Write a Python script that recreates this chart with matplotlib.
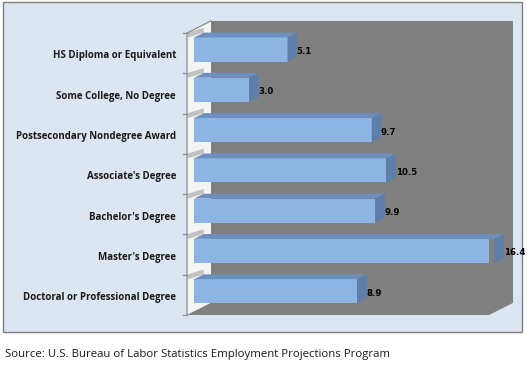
import matplotlib.pyplot as plt
from matplotlib.patches import Polygon, Rectangle

# Data (top to bottom in the picture)
categories = [
    "HS Diploma or Equivalent",
    "Some College, No Degree",
    "Postsecondary Nondegree Award",
    "Associate's Degree",
    "Bachelor's Degree",
    "Master's Degree",
    "Doctoral or Professional Degree",
]
values = [5.1, 3.0, 9.7, 10.5, 9.9, 16.4, 8.9]
source_text = "Source: U.S. Bureau of Labor Statistics Employment Projections Program"

# Styling
BG = "#dce6f2"
WALL = "#808080"
FRONT = "#8db4e2"
TOP = "#6d8fbd"
SIDE = "#5f7fab"
XMAX = 16.5
DX, DY = 1.31, 0.30      # full 3D depth, in data units
F0, F1 = 0.3, 0.7        # bar depth range (fraction of full depth)
BAR_H = 0.6

fig = plt.figure(figsize=(5.27, 3.65), dpi=100)
fig.patch.set_facecolor("white")

# chart area box
fig.patches.append(Rectangle((3 / 527, 1 - 332 / 365), 519 / 527, 330 / 365,
                             transform=fig.transFigure, facecolor=BG,
                             edgecolor="#7f7f7f", linewidth=1.0, zorder=-10))

ax = fig.add_axes([187 / 527, 50 / 365, 302 / 527, 282 / 365])
ax.set_facecolor("none")
ax.set_xlim(0, XMAX)
ax.set_ylim(-0.5, len(categories) - 0.5)
for s in ax.spines.values():
    s.set_visible(False)
ax.set_xticks([])
ax.set_yticks([])

n = len(categories)
ypos = [n - 1 - i for i in range(n)]

# back wall and floor
ax.add_patch(Rectangle((DX, -0.5 + DY), XMAX, n, facecolor=WALL,
                       edgecolor="none", zorder=1, clip_on=False))
ax.add_patch(Polygon([(0, -0.5), (XMAX, -0.5), (XMAX + DX, -0.5 + DY), (DX, -0.5 + DY)],
                     closed=True, facecolor=WALL, edgecolor="none", zorder=1, clip_on=False))
# left side wall
ax.add_patch(Polygon([(0, -0.5), (0, n - 0.5), (DX, n - 0.5 + DY), (DX, -0.5 + DY)],
                     closed=True, facecolor="#f4f4f4", edgecolor="none", zorder=1.5,
                     clip_on=False))
ax.add_patch(Polygon([(0, -0.5), (DX, -0.5 + DY), (DX, -0.5)], closed=True,
                     facecolor=WALL, edgecolor="none", zorder=1.6, clip_on=False))
ax.plot([0, 0, DX], [-0.5, n - 0.5, n - 0.5 + DY], color="#8c8c8c", lw=0.9,
        zorder=5, clip_on=False)

# category boundary marks
for b in range(n + 1):
    yb = b - 0.5
    ax.plot([0, -0.22], [yb, yb], color="#8c8c8c", lw=0.9, zorder=5, clip_on=False)

# bar shadows on left wall
for y in ypos:
    t = y + BAR_H / 2
    ax.add_patch(Polygon([(0.05, t + F0 * DY), (F1 * DX, t + F1 * DY),
                          (F1 * DX, t + F1 * DY + 0.12), (0.05, t + F0 * DY + 0.12)],
                         closed=True, facecolor="#9a9a9a", alpha=0.55, edgecolor="none",
                         zorder=1.7, clip_on=False))

# bars: front faces
ax.barh([y + F0 * DY for y in ypos], values, height=BAR_H, left=F0 * DX,
        color=FRONT, edgecolor="none", zorder=3)

for y, v in zip(ypos, values):
    top = y + BAR_H / 2
    bot = y - BAR_H / 2
    ax.add_patch(Polygon([(F0 * DX, top + F0 * DY), (v + F0 * DX, top + F0 * DY),
                          (v + F1 * DX, top + F1 * DY), (F1 * DX, top + F1 * DY)],
                         closed=True, facecolor=TOP, edgecolor="none", zorder=3,
                         clip_on=False))
    ax.add_patch(Polygon([(v + F0 * DX, bot + F0 * DY), (v + F0 * DX, top + F0 * DY),
                          (v + F1 * DX, top + F1 * DY), (v + F1 * DX, bot + F1 * DY)],
                         closed=True, facecolor=SIDE, edgecolor="none", zorder=3,
                         clip_on=False))
    ax.text(v + F1 * DX - 0.02, y + 0.04, f"{v:.1f}", ha="left", va="center",
            fontsize=6.2, fontweight="bold", color="black", family="DejaVu Sans",
            zorder=6, clip_on=False)

# category labels
for y, c in zip(ypos, categories):
    ax.annotate(c, (0, y), xytext=(-8, -2), textcoords="offset points",
                ha="right", va="center", fontsize=7.0, fontweight="bold",
                family="Open Sans", color="#1a1a1a", annotation_clip=False)

fig.text(5 / 527, 1 - 355 / 365, source_text, ha="left", va="center",
         fontsize=8.2, family="Open Sans", color="#1a1a1a")

fig.savefig("out.png", dpi=100)
